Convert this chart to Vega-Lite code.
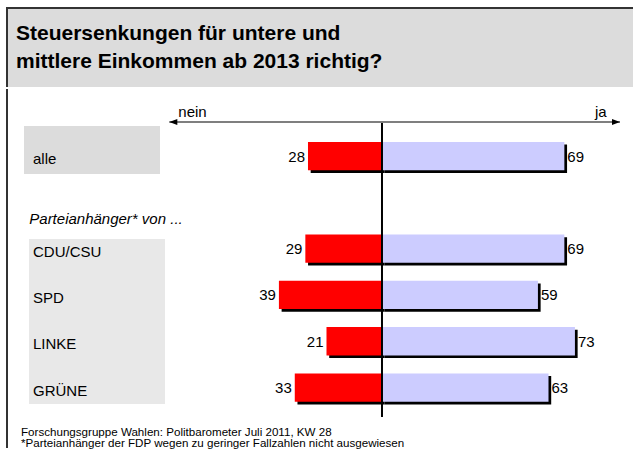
{
  "$schema": "https://vega.github.io/schema/vega-lite/v6.json",
  "padding": {"left": 6, "top": 7, "right": 0, "bottom": 0},
  "background": "#ffffff",
  "spacing": 0,
  "config": {
    "font": "Liberation Sans",
    "view": {"stroke": null},
    "text": {"font": "Liberation Sans", "fontSize": 15, "color": "#000000", "baseline": "alphabetic"},
    "title": {"font": "Liberation Sans", "color": "#000000"}
  },
  "datasets": {
    "umfrage": [
      {"gruppe": "alle", "nein": 28, "ja": 69},
      {"gruppe": "CDU/CSU", "nein": 29, "ja": 69},
      {"gruppe": "SPD", "nein": 39, "ja": 59},
      {"gruppe": "LINKE", "nein": 21, "ja": 73},
      {"gruppe": "GRÜNE", "nein": 33, "ja": 63}
    ]
  },
  "vconcat": [
    {
      "width": 626,
      "height": 79,
      "view": {"fill": "#dcdcdc", "stroke": "#333333", "strokeWidth": 2, "strokeDash": [626, 705]},
      "title": {
        "text": ["Steuersenkungen für untere und", "mittlere Einkommen ab 2013 richtig?"],
        "anchor": "start", "frame": "group", "fontSize": 21, "fontWeight": "bold",
        "lineHeight": 27.5, "baseline": "top", "offset": -63.5, "dx": 9
      },
      "data": {"values": []},
      "mark": "rule",
      "encoding": {}
    },
    {
      "width": 626,
      "height": 359,
      "view": {"stroke": "#333333", "strokeWidth": 2, "strokeDash": [0, 1611, 359, 0]},
      "title": {
        "text": ["Forschungsgruppe Wahlen: Politbarometer Juli 2011, KW 28", "*Parteianhänger der FDP wegen zu geringer Fallzahlen nicht ausgewiesen"],
        "orient": "bottom", "anchor": "start", "frame": "group", "fontSize": 11.6, "fontWeight": "normal",
        "lineHeight": 11.5, "baseline": "top", "offset": -21.5, "dx": 14
      },
      "resolve": {"scale": {"x": "independent"}},
      "layer": [
        {
          "data": {"name": "umfrage"},
          "layer": [
            {
              "mark": {"type": "bar", "color": "#000000", "xOffset": 2.7, "x2Offset": 2.7, "yOffset": 2.7},
              "encoding": {
                "y": {"field": "gruppe", "type": "nominal", "axis": null,
                  "scale": {"domain": ["nein | ja", "alle", "Parteianhänger* von ...", "CDU/CSU", "SPD", "LINKE", "GRÜNE"], "range": [-2.4, 321.7], "paddingInner": 0.389, "paddingOuter": 0.1945}},
                "x": {"field": "nein", "type": "quantitative", "axis": null,
                  "scale": {"domain": [-94.97, 141.88], "reverse": true, "nice": false, "zero": false}},
                "x2": {"datum": 0}
              }
            },
            {
              "mark": {"type": "bar", "color": "#ff0000"},
              "encoding": {
                "y": {"field": "gruppe", "type": "nominal", "axis": null},
                "x": {"field": "nein", "type": "quantitative", "axis": null},
                "x2": {"datum": 0}
              }
            },
            {
              "mark": {"type": "text", "align": "right", "dx": -3, "dy": 5.5},
              "encoding": {
                "y": {"field": "gruppe", "type": "nominal", "axis": null},
                "x": {"field": "nein", "type": "quantitative", "axis": null},
                "text": {"field": "nein", "type": "quantitative"}
              }
            }
          ]
        },
        {
          "layer": [
            {
              "data": {"values": [{}]},
              "mark": {"type": "bar", "color": "#dcdcdc", "height": 48, "yOffset": -6.1},
              "encoding": {
                "y": {"datum": "alle", "type": "nominal", "axis": null},
                "x": {"datum": -135.45, "type": "quantitative", "axis": null,
                  "scale": {"domain": [-141.88, 94.97], "nice": false, "zero": false}},
                "x2": {"datum": -84.0}
              }
            },
            {
              "data": {"values": [{}]},
              "mark": {"type": "bar", "color": "#e8e8e8", "height": 165, "yOffset": 26.5},
              "encoding": {
                "y": {"datum": "SPD", "type": "nominal", "axis": null},
                "x": {"datum": -133.56, "type": "quantitative", "axis": null},
                "x2": {"datum": -82.1}
              }
            },
            {
              "data": {"name": "umfrage"},
              "mark": {"type": "text", "align": "left", "dy": 8},
              "encoding": {
                "y": {"field": "gruppe", "type": "nominal", "axis": null},
                "x": {"datum": -132.05, "type": "quantitative", "axis": null},
                "text": {"field": "gruppe", "type": "nominal"}
              }
            },
            {
              "data": {"values": [{}]},
              "mark": {"type": "text", "text": "Parteianhänger* von ...", "fontStyle": "italic", "align": "left", "dx": -3.7, "dy": 21.6},
              "encoding": {
                "y": {"datum": "Parteianhänger* von ...", "type": "nominal", "axis": null},
                "x": {"datum": -132.05, "type": "quantitative", "axis": null}
              }
            },
            {
              "data": {"name": "umfrage"},
              "mark": {"type": "bar", "color": "#000000", "xOffset": 2.7, "x2Offset": 2.7, "yOffset": 2.7},
              "encoding": {
                "y": {"field": "gruppe", "type": "nominal", "axis": null},
                "x": {"field": "ja", "type": "quantitative", "axis": null},
                "x2": {"datum": 0}
              }
            },
            {
              "data": {"name": "umfrage"},
              "mark": {"type": "bar", "color": "#ccccff"},
              "encoding": {
                "y": {"field": "gruppe", "type": "nominal", "axis": null},
                "x": {"field": "ja", "type": "quantitative", "axis": null},
                "x2": {"datum": 0}
              }
            },
            {
              "data": {"name": "umfrage"},
              "mark": {"type": "text", "align": "left", "dx": 3, "dy": 5.5},
              "encoding": {
                "y": {"field": "gruppe", "type": "nominal", "axis": null},
                "x": {"field": "ja", "type": "quantitative", "axis": null},
                "text": {"field": "ja", "type": "quantitative"}
              }
            },
            {
              "data": {"values": [{}]},
              "mark": {"type": "rule", "color": "#000000", "strokeWidth": 2, "yOffset": 13.25, "y2Offset": 29.45},
              "encoding": {
                "x": {"datum": 0, "type": "quantitative", "axis": null},
                "y": {"datum": "nein | ja", "type": "nominal", "axis": null},
                "y2": {"datum": "GRÜNE"}
              }
            },
            {
              "data": {"values": [{}]},
              "mark": {"type": "rule", "color": "#000000", "strokeWidth": 1.2, "yOffset": 12.25},
              "encoding": {
                "x": {"datum": -80.48, "type": "quantitative", "axis": null},
                "x2": {"datum": 90.05},
                "y": {"datum": "nein | ja", "type": "nominal", "axis": null}
              }
            },
            {
              "data": {"values": [{}]},
              "mark": {"type": "point", "shape": "M0,0L2,-0.75L2,0.75Z", "size": 64, "filled": true, "opacity": 1, "color": "#000000", "yOffset": 12.25},
              "encoding": {
                "x": {"datum": -80.48, "type": "quantitative", "axis": null},
                "y": {"datum": "nein | ja", "type": "nominal", "axis": null}
              }
            },
            {
              "data": {"values": [{}]},
              "mark": {"type": "point", "shape": "M0,0L-2,-0.75L-2,0.75Z", "size": 64, "filled": true, "opacity": 1, "color": "#000000", "yOffset": 12.25},
              "encoding": {
                "x": {"datum": 90.05, "type": "quantitative", "axis": null},
                "y": {"datum": "nein | ja", "type": "nominal", "axis": null}
              }
            },
            {
              "data": {"values": [{}]},
              "mark": {"type": "text", "text": "nein", "align": "left", "dy": 7.55},
              "encoding": {
                "x": {"datum": -77.07, "type": "quantitative", "axis": null},
                "y": {"datum": "nein | ja", "type": "nominal", "axis": null}
              }
            },
            {
              "data": {"values": [{}]},
              "mark": {"type": "text", "text": "ja", "align": "right", "dy": 7.55},
              "encoding": {
                "x": {"datum": 85.02, "type": "quantitative", "axis": null},
                "y": {"datum": "nein | ja", "type": "nominal", "axis": null}
              }
            }
          ]
        }
      ]
    }
  ]
}
